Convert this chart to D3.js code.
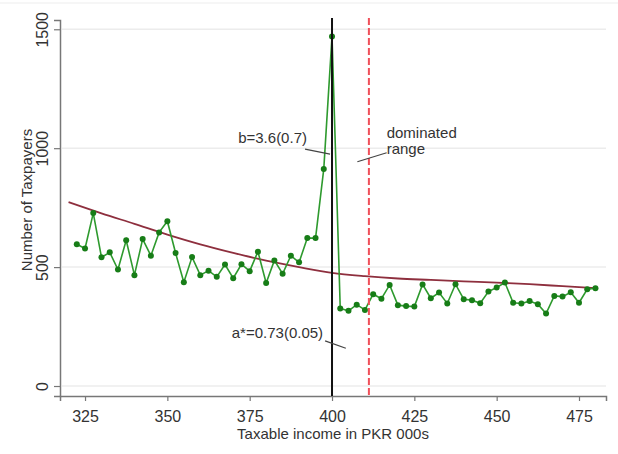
<!DOCTYPE html>
<html>
<head>
<meta charset="utf-8">
<script src="https://cdn.jsdelivr.net/npm/d3@7/dist/d3.min.js"></script>
<style>
  html, body { margin: 0; padding: 0; background: #fff; }
  svg { display: block; font-family: "Liberation Sans", Arial, sans-serif; }
</style>
</head>
<body>
<svg id="chart" width="618" height="454"></svg>
<script>
// Taxable income bins (PKR 000s), 2.5k wide
const incomeBins = [
  322.5, 325, 327.5, 330, 332.5, 335, 337.5, 340, 342.5, 345, 347.5, 350,
  352.5, 355, 357.5, 360, 362.5, 365, 367.5, 370, 372.5, 375, 377.5, 380,
  382.5, 385, 387.5, 390, 392.5, 395, 397.5, 400, 402.5, 405, 407.5, 410,
  412.5, 415, 417.5, 420, 422.5, 425, 427.5, 430, 432.5, 435, 437.5, 440,
  442.5, 445, 447.5, 450, 452.5, 455, 457.5, 460, 462.5, 465, 467.5, 470,
  472.5, 475, 477.5, 480
];

// Observed number of taxpayers per bin
const taxpayerCounts = [
  596, 578, 727, 541, 562, 490, 613, 466, 618, 548, 646, 693,
  559, 436, 542, 466, 485, 459, 511, 453, 512, 483, 565, 433,
  528, 472, 548, 520, 622, 622, 913, 1470, 326, 316, 342, 320,
  386, 367, 425, 340, 336, 334, 427, 369, 393, 347, 428, 365,
  361, 348, 397, 414, 435, 350, 347, 357, 344, 305, 379, 376,
  394, 350, 407, 411
];

// Fitted counterfactual density
const fitIncome = [320, 330, 340, 350, 360, 370, 380, 390, 400, 410, 420, 430, 440, 450, 460, 470, 480];
const fitCounts = [773, 726, 682, 637, 596, 560, 527, 500, 476, 462, 452, 446, 440, 435, 428, 420, 412];

// Axis ticks
const xTicks = [325, 350, 375, 400, 425, 450, 475];
const yTicks = [0, 500, 1000, 1500];

// Reference lines: notch threshold and upper end of dominated range
const thresholdIncome = 400;
const dominatedEnd = 411.2;

// Annotation texts, anchored in data coordinates
const annotations = [
  { lines: ["b=3.6(0.7)"], x: 392.4, y: 1043, anchor: "end",
    leader: [[391.8, 996], [399.4, 975]] },
  { lines: ["dominated", "range"], x: 416.6, y: 1068, anchor: "start",
    leader: [[407.7, 943], [416.6, 981]] },
  { lines: ["a*=0.73(0.05)"], x: 397.3, y: 223, anchor: "end",
    leader: [[397.9, 190], [404.2, 159]] }
];

const svg = d3.select("#chart");
const plotLeft = 60, plotRight = 606, plotTop = 20, plotBottom = 396;

const x = d3.scaleLinear().domain([317.4, 483.2]).range([plotLeft, plotRight]);
const y = d3.scaleLinear().domain([-42, 1539]).range([plotBottom, plotTop]);

// faint frame line at the top of the figure
svg.append("line")
  .attr("x1", 0).attr("x2", 618).attr("y1", 3).attr("y2", 3)
  .attr("stroke", "#ededed").attr("stroke-width", 1);

// horizontal gridlines
svg.append("g")
  .selectAll("line")
  .data(yTicks)
  .join("line")
  .attr("x1", plotLeft + 2).attr("x2", plotRight)
  .attr("y1", d => y(d)).attr("y2", d => y(d))
  .attr("stroke", "#ececec").attr("stroke-width", 1.5);

// y axis
const yAxis = svg.append("g")
  .attr("transform", `translate(${plotLeft},0)`)
  .call(d3.axisLeft(y).tickValues(yTicks).tickSize(6).tickPadding(5).tickFormat(d3.format("d")));
yAxis.select(".domain").attr("stroke", "#777").attr("stroke-width", 1.5);
yAxis.selectAll(".tick line").attr("stroke", "#777").attr("stroke-width", 1.2);
yAxis.selectAll(".tick text")
  .attr("fill", "#333")
  .attr("font-size", 16)
  .attr("x", 0).attr("dy", 0)
  .attr("text-anchor", "middle")
  .attr("dominant-baseline", "central")
  .attr("transform", "translate(-18,0) rotate(-90)");

// x axis
const xAxis = svg.append("g")
  .attr("transform", `translate(0,${plotBottom})`)
  .call(d3.axisBottom(x).tickValues(xTicks).tickSize(5).tickPadding(5).tickFormat(d3.format("d")));
xAxis.select(".domain").attr("stroke", "#777").attr("stroke-width", 1.5);
xAxis.selectAll(".tick line").attr("stroke", "#777").attr("stroke-width", 1.2);
xAxis.selectAll(".tick text")
  .attr("fill", "#333")
  .attr("font-size", 16)
  .attr("y", 20).attr("dy", 0)
  .attr("dominant-baseline", "central");

// axis titles
svg.append("text")
  .attr("x", 333).attr("y", 433)
  .attr("text-anchor", "middle").attr("dominant-baseline", "central")
  .attr("font-size", 15).attr("fill", "#333")
  .text("Taxable income in PKR 000s");
svg.append("text")
  .attr("transform", "translate(26,200) rotate(-90)")
  .attr("text-anchor", "middle").attr("dominant-baseline", "central")
  .attr("font-size", 15).attr("fill", "#333")
  .text("Number of Taxpayers");

// fitted counterfactual curve
const fitData = fitIncome.map((v, i) => [v, fitCounts[i]]);
svg.append("path")
  .datum(fitData)
  .attr("fill", "none")
  .attr("stroke", "#8e2f3e")
  .attr("stroke-width", 1.8)
  .attr("d", d3.line().x(d => x(d[0])).y(d => y(d[1])).curve(d3.curveMonotoneX));

// observed distribution
const obsData = incomeBins.map((v, i) => [v, taxpayerCounts[i]]);
svg.append("path")
  .datum(obsData)
  .attr("fill", "none")
  .attr("stroke", "#2e9a2e")
  .attr("stroke-width", 1.6)
  .attr("d", d3.line().x(d => x(d[0])).y(d => y(d[1])));

svg.append("g")
  .selectAll("circle")
  .data(obsData)
  .join("circle")
  .attr("cx", d => x(d[0]))
  .attr("cy", d => y(d[1]))
  .attr("r", 3)
  .attr("fill", "#177d17");

// threshold line
svg.append("line")
  .attr("x1", x(thresholdIncome)).attr("x2", x(thresholdIncome))
  .attr("y1", 18).attr("y2", plotBottom)
  .attr("stroke", "#111").attr("stroke-width", 2);

// dominated range boundary
svg.append("line")
  .attr("x1", x(dominatedEnd)).attr("x2", x(dominatedEnd))
  .attr("y1", 18).attr("y2", plotBottom)
  .attr("stroke", "#f0505a").attr("stroke-width", 2)
  .attr("stroke-dasharray", "7,3");

// annotations with leader lines
annotations.forEach(a => {
  svg.append("line")
    .attr("x1", x(a.leader[0][0])).attr("y1", y(a.leader[0][1]))
    .attr("x2", x(a.leader[1][0])).attr("y2", y(a.leader[1][1]))
    .attr("stroke", "#444").attr("stroke-width", 1.2);
  const t = svg.append("text")
    .attr("text-anchor", a.anchor)
    .attr("font-size", 15).attr("fill", "#333");
  a.lines.forEach((s, i) => {
    t.append("tspan")
      .attr("x", x(a.x))
      .attr("y", y(a.y) + i * 16)
      .attr("dominant-baseline", "central")
      .text(s);
  });
});
</script>
</body>
</html>
